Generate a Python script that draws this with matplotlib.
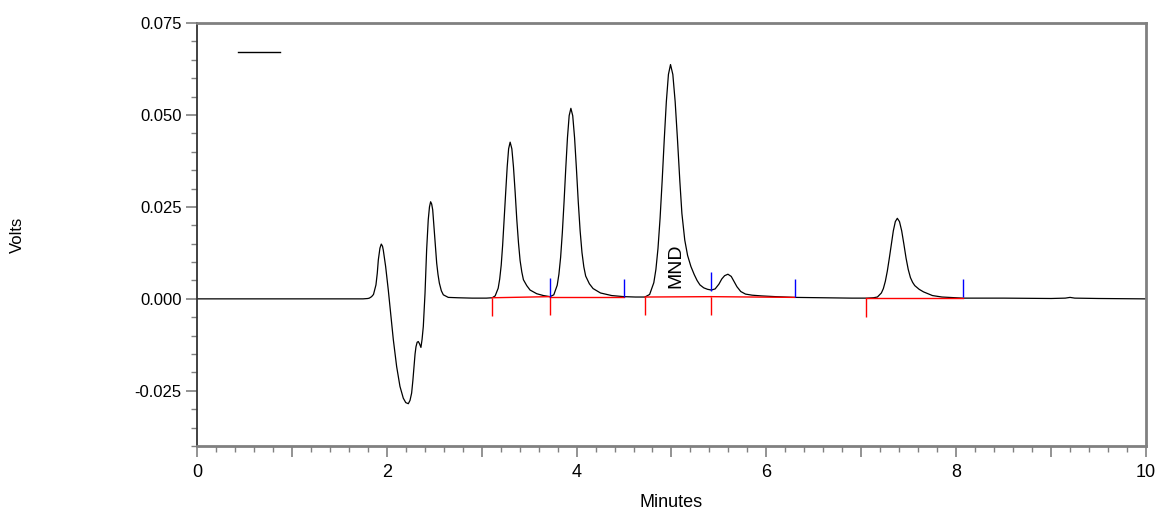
import matplotlib
matplotlib.use("Agg")
import matplotlib.pyplot as plt
from matplotlib.lines import Line2D
from matplotlib.ticker import MultipleLocator, FuncFormatter

plt.rcParams["font.family"] = ["Liberation Sans", "DejaVu Sans"]

TIME_MIN = [
    0.00, 0.50, 1.00, 1.50, 1.75, 1.80, 1.816, 1.84, 1.86, 1.886, 1.90, 1.911,
    1.928, 1.942, 1.955, 1.963, 1.975, 1.988, 2.002, 2.016, 2.041, 2.069,
    2.104, 2.139, 2.174, 2.20, 2.227, 2.245, 2.262, 2.275, 2.287, 2.298,
    2.308, 2.32, 2.332, 2.345, 2.360, 2.372, 2.385, 2.403, 2.420, 2.437,
    2.450, 2.462, 2.473, 2.484, 2.505, 2.526, 2.540, 2.554, 2.575, 2.596,
    2.648, 2.75, 2.90, 3.05, 3.111,
    3.142, 3.174, 3.190, 3.206, 3.221, 3.237, 3.253, 3.269, 3.284, 3.300,
    3.318, 3.335, 3.353, 3.370, 3.388, 3.405, 3.423, 3.440, 3.475, 3.510,
    3.580, 3.650, 3.72,
    3.76, 3.796, 3.814, 3.832, 3.850, 3.868, 3.886, 3.904, 3.922, 3.940,
    3.9595, 3.979, 3.9985, 4.018, 4.0375, 4.057, 4.0765, 4.096, 4.135, 4.174,
    4.252, 4.37, 4.50, 4.62, 4.72,
    4.77, 4.814, 4.836, 4.858, 4.880, 4.902, 4.924, 4.946, 4.968, 4.990,
    5.0145, 5.039, 5.0635, 5.088, 5.11, 5.14, 5.17, 5.205, 5.24, 5.27,
    5.30, 5.34, 5.38, 5.42,
    5.46, 5.50, 5.53, 5.56, 5.595, 5.63, 5.66, 5.69, 5.73, 5.78, 5.85,
    5.95, 6.10, 6.30, 6.60, 6.90, 7.06,
    7.128, 7.17, 7.212, 7.233, 7.254, 7.275, 7.296, 7.317, 7.338, 7.359,
    7.38, 7.403, 7.426, 7.449, 7.472, 7.495, 7.518, 7.541, 7.564, 7.61,
    7.656, 7.75, 7.85, 8.0, 8.07, 8.5, 9.0, 9.15, 9.2, 9.25, 9.5, 10.0,
]
SIGNAL_V = [
    0.0000, 0.0000, 0.0000, 0.0000, 0.0000, 0.0001, 0.0002, 0.0006, 0.0012, 0.0038, 0.0070, 0.0106,
    0.0138, 0.0149, 0.0143, 0.0133, 0.0112, 0.0088, 0.0056, 0.0024, -0.0039, -0.0111,
    -0.0184, -0.0238, -0.0270, -0.0282, -0.0285, -0.0276, -0.0256, -0.0222, -0.0184, -0.0150,
    -0.0130, -0.0118, -0.0116, -0.0122, -0.0132, -0.0110, -0.0075, 0.0015, 0.0133, 0.0215,
    0.0250, 0.0264, 0.0258, 0.0242, 0.0169, 0.0097, 0.0066, 0.0043, 0.0022, 0.0011,
    0.0004, 0.0003, 0.0002, 0.0002, 0.0003,
    0.0008, 0.0029, 0.0054, 0.0092, 0.0146, 0.0215, 0.0289, 0.0359, 0.0408, 0.0426,
    0.0408, 0.0359, 0.0289, 0.0216, 0.0152, 0.0104, 0.0073, 0.0052, 0.0036, 0.0024,
    0.0014, 0.0009, 0.0006,
    0.0011, 0.0037, 0.0067, 0.0113, 0.0180, 0.0263, 0.0354, 0.0438, 0.0498, 0.0518,
    0.0498, 0.0438, 0.0354, 0.0263, 0.0185, 0.0126, 0.0087, 0.0062, 0.0041, 0.0028,
    0.0016, 0.0009, 0.0006, 0.0005, 0.0005,
    0.0012, 0.0044, 0.0080, 0.0137, 0.0219, 0.0321, 0.0433, 0.0536, 0.0610, 0.0637,
    0.0610, 0.0536, 0.0433, 0.0321, 0.0232, 0.0160, 0.0118, 0.0088, 0.0066, 0.0050,
    0.0038, 0.0030, 0.0026, 0.0024,
    0.0027, 0.0040, 0.0054, 0.0063, 0.0067, 0.0061, 0.0047, 0.0033, 0.0020, 0.0013, 0.0010,
    0.0008, 0.0006, 0.0004, 0.0003, 0.0002, 0.0002,
    0.0003, 0.0005, 0.0016, 0.0028, 0.0048, 0.0076, 0.0111, 0.0149, 0.0185, 0.0210,
    0.0219, 0.0210, 0.0185, 0.0149, 0.0111, 0.0080, 0.0058, 0.0045, 0.0036, 0.0026,
    0.0019, 0.0009, 0.0005, 0.0003, 0.0002, 0.0002, 0.0001, 0.0002, 0.0004, 0.0002, 0.0001, 0.0000,
]

# integration events
PEAK_START = [3.11, 3.72, 4.72, 5.42, 7.05]
PEAK_START_V = [0.0003, 0.0006, 0.0005, 0.0006, 0.0002]
PEAK_END = [3.72, 4.50, 5.42, 6.30, 8.07]
PEAK_END_BASE_V = [0.0006, 0.0006, 0.0006, 0.0004, 0.0002]
PEAK_END_TRACE_V = [0.0006, 0.0004, 0.0022, 0.0005, 0.0004]
MARK_LEN = 0.005

PEAK_NAME = "MND"
PEAK_NAME_POS = (5.05, 0.0030)

fig = plt.figure(figsize=(11.56, 5.13), dpi=100)
ax = fig.add_axes([0.1704, 0.1306, 0.8209, 0.8246])

ax.plot(TIME_MIN, SIGNAL_V, color="black", lw=0.9)

for t0, v0, t1, v1 in zip(PEAK_START, PEAK_START_V, PEAK_END, PEAK_END_BASE_V):
    ax.plot([t0, t1], [v0, v1], color="#ff0000", lw=1.0)
ax.vlines(PEAK_START, [v - MARK_LEN for v in PEAK_START_V], PEAK_START_V,
          color="#ff0000", lw=1.0)
ax.vlines(PEAK_END, PEAK_END_TRACE_V, [v + MARK_LEN for v in PEAK_END_TRACE_V],
          color="#0000ff", lw=1.0)

ax.text(PEAK_NAME_POS[0], PEAK_NAME_POS[1], PEAK_NAME, rotation=90,
        ha="center", va="bottom", fontsize=14)

ax.set_xlim(0, 10)
ax.set_ylim(-0.04, 0.075)
ax.xaxis.set_major_locator(MultipleLocator(1))
ax.xaxis.set_major_formatter(FuncFormatter(lambda v, p: f"{v:.0f}" if round(v) % 2 == 0 else ""))
ax.xaxis.set_minor_locator(MultipleLocator(0.2))
ax.yaxis.set_minor_locator(MultipleLocator(0.005))
ax.set_yticks([0.075, 0.05, 0.025, 0.0, -0.025])
ax.set_yticklabels(["0.075", "0.050", "0.025", "0.000", "-0.025"])

ax.tick_params(axis="both", which="major", length=8, width=1.2, color="#808080")
ax.tick_params(axis="both", which="minor", length=4, width=1.0, color="#808080")
ax.tick_params(axis="y", labelsize=12, pad=3)
ax.tick_params(axis="x", labelsize=13, pad=5)

for side in ["top", "bottom", "right"]:
    ax.spines[side].set_color("#808080")
    ax.spines[side].set_linewidth(2.0)
ax.spines["left"].set_color("#333333")
ax.spines["left"].set_linewidth(1.3)

ax.set_xlabel("Minutes", fontsize=13)
ax.set_ylabel("Volts", fontsize=12)
ax.xaxis.set_label_coords(0.5, -0.114)
ax.yaxis.set_label_coords(-0.181, 0.5)

ax.legend([Line2D([], [], color="black", lw=1.0)], [""], loc="upper left",
          bbox_to_anchor=(0.03, 0.975), frameon=False, handlelength=3.0)

fig.savefig("out.png", dpi=100)
